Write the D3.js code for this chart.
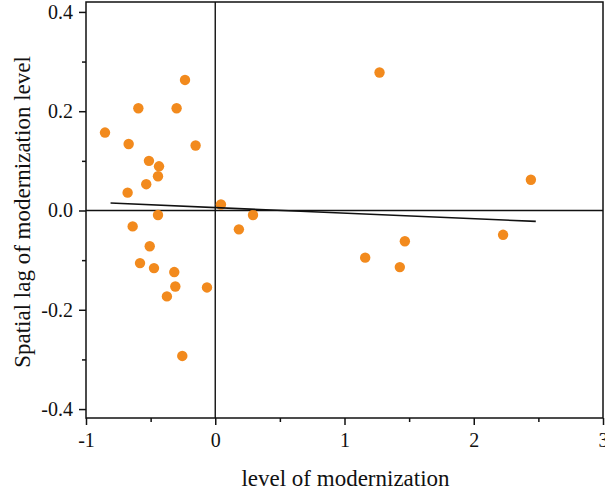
<!DOCTYPE html>
<html>
<head>
<meta charset="utf-8">
<script src="https://cdn.jsdelivr.net/npm/d3@7"></script>
<style>
  body { margin: 0; background: #fff; }
  svg text { fill: #111; }
</style>
</head>
<body>
<div id="chart"></div>
<script>
// scatter values
const modernization = [
  -0.234, -0.595, -0.299, -0.853, -0.670, -0.152, -0.513, -0.435, -0.443, -0.534,
  -0.678, 0.044, -0.443, 0.292, -0.639, 0.183, -0.507, -0.582, -0.474, -0.317,
  -0.309, -0.064, -0.374, -0.255, 1.271, 2.442, 2.227, 1.467, 1.160, 1.428
];
const spatialLag = [
  0.263, 0.206, 0.206, 0.157, 0.134, 0.131, 0.100, 0.089, 0.069, 0.053,
  0.036, 0.012, -0.009, -0.009, -0.032, -0.038, -0.072, -0.106, -0.116, -0.124,
  -0.153, -0.155, -0.173, -0.293, 0.278, 0.062, -0.049, -0.062, -0.095, -0.114
];
// fitted line end points
const fitX = [-0.81, 2.48];
const fitY = [0.015, -0.022];

const xTicks = [-1, 0, 1, 2, 3];
const xMinor = [-0.5, 0.5, 1.5, 2.5];
const yTicks = [-0.4, -0.2, 0, 0.2, 0.4];
const yMinor = [-0.3, -0.1, 0.1, 0.3];

const width = 605, height = 497;
const margin = { left: 86, right: 2, top: 2, bottom: 79 };
const serif = "'Times New Roman', Tinos, 'Liberation Serif', 'Noto Serif', 'DejaVu Serif', serif";

const svg = d3.select('#chart')
  .append('svg')
  .attr('width', width)
  .attr('height', height);

const x = d3.scaleLinear()
  .domain([-1, 3])
  .range([margin.left, width - margin.right]);

const y = d3.scaleLinear()
  .domain([-0.418, 0.42])
  .range([height - margin.bottom, margin.top]);

// plain hyphen instead of d3's unicode minus
const fmtX = d => d3.format('d')(d).replace('\u2212', '-');
const fmtY = d => d3.format('.1f')(d).replace('\u2212', '-');

// zero lines
svg.append('line')
  .attr('x1', x(-1)).attr('x2', x(3))
  .attr('y1', y(0)).attr('y2', y(0))
  .attr('stroke', '#111').attr('stroke-width', 1.4);
svg.append('line')
  .attr('x1', x(0)).attr('x2', x(0))
  .attr('y1', y.range()[0]).attr('y2', y.range()[1])
  .attr('stroke', '#111').attr('stroke-width', 1.4);

// frame
svg.append('rect')
  .attr('x', x(-1)).attr('y', margin.top)
  .attr('width', x(3) - x(-1))
  .attr('height', y.range()[0] - margin.top)
  .attr('fill', 'none')
  .attr('stroke', '#111')
  .attr('stroke-width', 1.5);

// points
const pts = modernization.map((d, i) => ({ x: d, y: spatialLag[i] }));
svg.append('g')
  .selectAll('circle')
  .data(pts)
  .join('circle')
  .attr('cx', d => x(d.x))
  .attr('cy', d => y(d.y))
  .attr('r', 5.2)
  .attr('fill', '#f28a1d');

// fitted line
svg.append('path')
  .attr('d', d3.line().x(d => x(d[0])).y(d => y(d[1]))(fitX.map((d, i) => [d, fitY[i]])))
  .attr('stroke', '#111')
  .attr('stroke-width', 1.6)
  .attr('fill', 'none');

// x axis
const xAxis = svg.append('g')
  .attr('transform', `translate(0,${y.range()[0]})`)
  .call(d3.axisBottom(x).tickValues(xTicks).tickSize(7).tickPadding(8).tickFormat(fmtX))
  .call(g => g.select('.domain').remove());
svg.append('g')
  .attr('transform', `translate(0,${y.range()[0]})`)
  .call(d3.axisBottom(x).tickValues(xMinor).tickSize(4).tickFormat(''))
  .call(g => g.select('.domain').remove())
  .selectAll('line').attr('stroke', '#111').attr('stroke-width', 1.5);

// y axis
const yAxis = svg.append('g')
  .attr('transform', `translate(${x.range()[0]},0)`)
  .call(d3.axisLeft(y).tickValues(yTicks).tickSize(7).tickPadding(6).tickFormat(fmtY))
  .call(g => g.select('.domain').remove());
svg.append('g')
  .attr('transform', `translate(${x.range()[0]},0)`)
  .call(d3.axisLeft(y).tickValues(yMinor).tickSize(4).tickFormat(''))
  .call(g => g.select('.domain').remove())
  .selectAll('line').attr('stroke', '#111').attr('stroke-width', 1.5);

[xAxis, yAxis].forEach(ax => {
  ax.attr('font-family', serif);
  ax.selectAll('line').attr('stroke', '#111').attr('stroke-width', 1.5);
  ax.selectAll('text')
    .attr('font-size', 20)
    .attr('font-family', serif)
    .attr('fill', '#111');
});

// titles
svg.append('text')
  .attr('x', (x(-1) + x(3)) / 2 + 1)
  .attr('y', 486)
  .attr('text-anchor', 'middle')
  .attr('font-size', 23)
  .attr('font-family', serif)
  .text('level of modernization');

svg.append('text')
  .attr('transform', `translate(30,${(y.range()[0] + y.range()[1]) / 2 + 2}) rotate(-90)`)
  .attr('text-anchor', 'middle')
  .attr('font-size', 23)
  .attr('font-family', serif)
  .text('Spatial lag of modernization level');
</script>
</body>
</html>
